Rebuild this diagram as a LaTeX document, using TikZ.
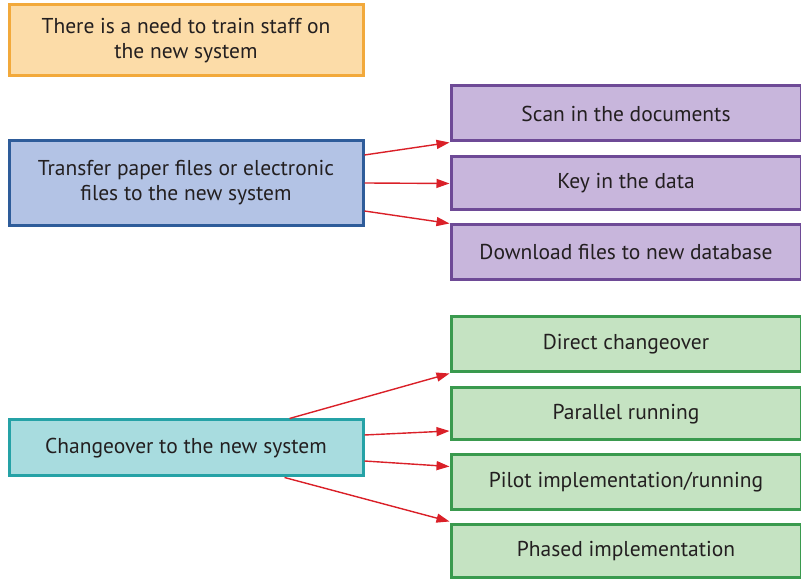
\documentclass[tikz,border=0pt]{standalone}
\usepackage{fontspec}
\setmainfont{PT Sans}
\usepackage{xcolor}
\definecolor{trainfill}{HTML}{FCDCA8}
\definecolor{trainline}{HTML}{F2A93B}
\definecolor{transferfill}{HTML}{B3C3E5}
\definecolor{transferline}{HTML}{2E5C9A}
\definecolor{dataflfill}{HTML}{C8B6DC}
\definecolor{datafline}{HTML}{6E4A96}
\definecolor{changefill}{HTML}{A8DCDF}
\definecolor{changeline}{HTML}{25A2A6}
\definecolor{methodfill}{HTML}{C5E3C2}
\definecolor{methodline}{HTML}{3A9A4E}
\definecolor{myred}{HTML}{DA2028}
\definecolor{mytext}{HTML}{231F20}
\usetikzlibrary{arrows.meta}

\begin{document}
\begin{tikzpicture}[
    box/.style={draw, line width=3pt, text=mytext, align=center,
      font=\fontsize{21.5}{25}\selectfont, inner sep=0pt},
    leftbox/.style={box, minimum width=354pt},
    rightbox/.style={box, minimum width=350pt},
    link/.style={draw=myred, line width=1.4pt, -{Triangle[length=13pt,width=9pt]}}
  ]
  \useasboundingbox (0pt,0pt) rectangle (801pt,580pt);

  % left column
  \node[leftbox, fill=trainfill, draw=trainline, minimum height=71pt] (train) at (186pt,539.5pt)
    {There is a need to train staff on\\the new system};
  \node[leftbox, fill=transferfill, draw=transferline, minimum height=85pt] (transfer) at (186pt,397pt)
    {Transfer paper files or electronic\\files to the new system};
  \node[leftbox, fill=changefill, draw=changeline, minimum height=56pt] (change) at (186pt,132pt)
    {Changeover to the new system};

  % ways of moving the data
  \node[rightbox, fill=dataflfill, draw=datafline, minimum height=55pt] (scan) at (626pt,466.5pt)
    {Scan in the documents};
  \node[rightbox, fill=dataflfill, draw=datafline, minimum height=53pt] (key) at (626pt,396.5pt)
    {Key in the data};
  \node[rightbox, fill=dataflfill, draw=datafline, minimum height=55pt] (download) at (626pt,327.5pt)
    {Download files to new database};

  % changeover methods
  \node[rightbox, fill=methodfill, draw=methodline, minimum height=55pt] (direct) at (626pt,235.5pt)
    {Direct changeover};
  \node[rightbox, fill=methodfill, draw=methodline, minimum height=52pt] (parallel) at (626pt,166pt)
    {Parallel running};
  \node[rightbox, fill=methodfill, draw=methodline, minimum height=55pt] (pilot) at (626pt,97.5pt)
    {Pilot implementation/running};
  \node[rightbox, fill=methodfill, draw=methodline, minimum height=53pt] (phased) at (626pt,28.5pt)
    {Phased implementation};

  \path[link] ([yshift=28pt]transfer.east) -- (scan.south west);
  \path[link] (transfer.east) -- (key.west);
  \path[link] ([yshift=-28pt]transfer.east) -- (download.north west);

  \path[link] ([xshift=-75pt]change.north east) -- (direct.south west);
  \path[link] ([yshift=13pt]change.east) -- ([yshift=-17pt]parallel.west);
  \path[link] ([yshift=-13pt]change.east) -- ([yshift=16pt]pilot.west);
  \path[link] ([xshift=-80pt]change.south east) -- ([yshift=2pt]phased.north west);
\end{tikzpicture}
\end{document}
